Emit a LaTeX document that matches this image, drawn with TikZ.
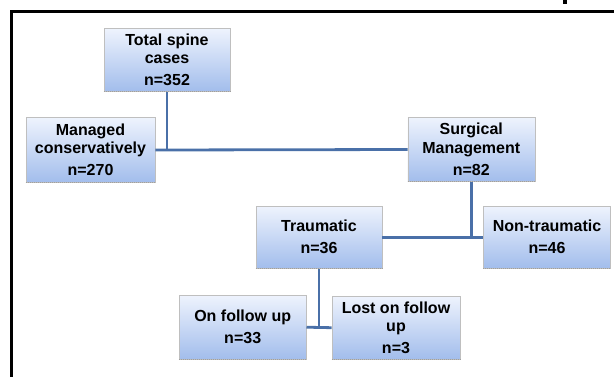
\documentclass[tikz,border=0pt]{standalone}
\usepackage{fontspec}
\setmainfont{Liberation Sans}
\begin{document}
\begin{tikzpicture}[x=1pt,y=-1pt]
\definecolor{boxtop}{HTML}{EEF3FD}
\definecolor{boxbot}{HTML}{A2BDEC}
\definecolor{connblue}{HTML}{4A70A8}
\tikzset{
  box/.style={draw=gray!50, line width=0.6pt, top color=boxtop, bottom color=boxbot,
    inner sep=0pt, align=center, font=\fontsize{16}{18.5}\selectfont\bfseries, text=black},
  conn/.style={draw=connblue, line width=2.8pt},
  shadowline/.style={draw=gray!75, line width=1pt, densely dotted}
}
\useasboundingbox (0,0) rectangle (614,376);
\draw[line width=3.2pt] (616,11.7) -- (11.7,11.7) -- (11.7,378);
\fill (563,0) rectangle (567,3.5);

\node[box, minimum width=126pt, minimum height=63pt] (total) at (167,60) {Total spine\\cases\\[3.5pt]n=352};
\node[box, minimum width=129pt, minimum height=65pt] (mgd) at (90.5,150) {Managed\\conservatively\\[3.5pt]n=270};
\node[box, minimum width=127pt, minimum height=64pt] (surg) at (471.3,149.5) {Surgical\\Management\\[3.5pt]n=82};
\node[box, minimum width=126pt, minimum height=62pt] (trau) at (319,237.2) {Traumatic\\[3.5pt]n=36};
\node[box, minimum width=127pt, minimum height=62pt] (non) at (547,237.2) {Non-traumatic\\[3.5pt]n=46};
\node[box, minimum width=127pt, minimum height=64pt] (onf) at (242.7,327.2) {On follow up\\[3.5pt]n=33};
\node[box, minimum width=128pt, minimum height=63pt] (lost) at (396,327.7) {Lost on follow\\up\\[3.5pt]n=3};

\foreach \n in {total,mgd,surg,trau,non,onf,lost}
  \draw[shadowline] (\n.south west) -- (\n.south east);

\draw[conn] (total.south) -- (total.south |- mgd.east);
\draw[conn] (mgd.east) -- (surg.west);
\draw[conn] (surg.south) -- (surg.south |- trau.east);
\draw[conn] (trau.east) -- (non.west);
\draw[conn] (trau.south) -- (trau.south |- onf.east);
\draw[conn] (onf.east) -- (lost.west);
\end{tikzpicture}
\end{document}
